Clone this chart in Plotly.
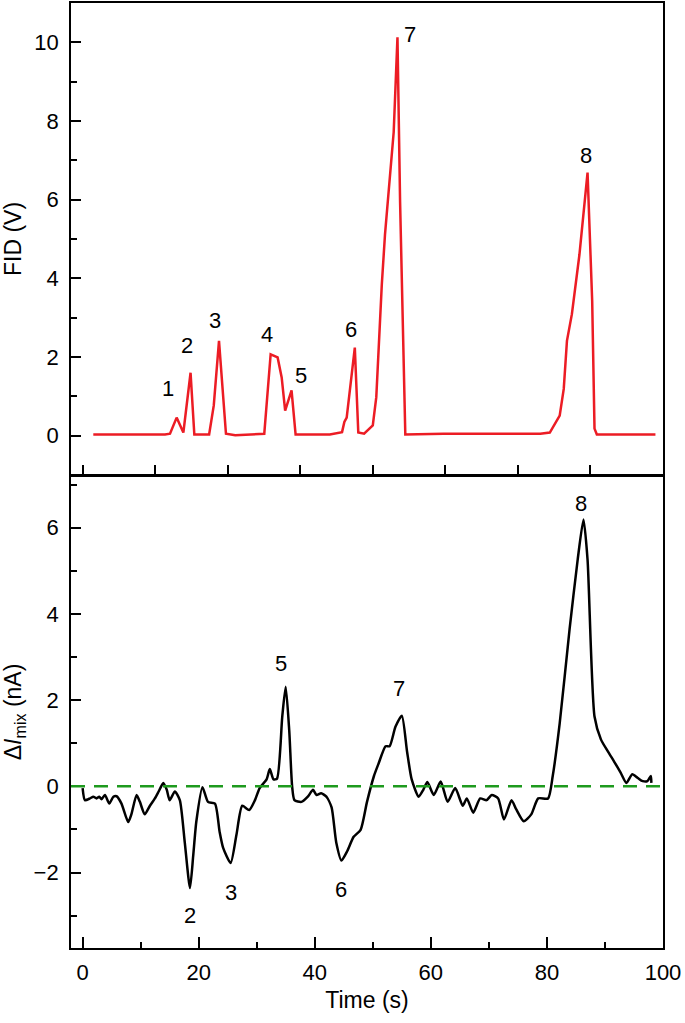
import plotly.graph_objects as go

# ---- Top panel: FID chromatogram ----
fid_time = [1.84, 14.2, 15.06, 16.2, 17.36, 18.6, 19.25, 21.8, 22.6, 23.5, 24.7, 26.3,
            31.3, 32.4, 33.6, 34.3, 34.9, 36.0, 36.7, 42.6, 44.7, 45.1, 45.5, 46.9,
            47.5, 48.5, 50.0, 50.6, 51.55, 52.1, 53.6, 54.25, 54.7, 55.6, 62.2, 78.85,
            80.5, 81.4, 82.2, 82.9, 83.45, 84.3, 85.6, 87.0, 87.8, 88.2, 88.6, 98.7]
fid_volt = [0.03, 0.03, 0.05, 0.46, 0.08, 1.6, 0.03, 0.03, 0.77, 2.41, 0.05, 0.01,
            0.05, 2.07, 1.99, 1.48, 0.64, 1.15, 0.03, 0.03, 0.09, 0.35, 0.46, 2.24,
            0.08, 0.05, 0.26, 0.98, 3.84, 5.11, 7.72, 10.13, 5.95, 0.03, 0.05, 0.05,
            0.08, 0.3, 0.51, 1.19, 2.41, 3.09, 4.6, 6.69, 3.42, 0.18, 0.03, 0.03]
fid_label_text = ["1", "2", "3", "4", "5", "6", "7", "8"]
fid_label_t = [14.65, 17.9, 22.8, 31.7, 37.6, 46.3, 56.4, 86.7]
fid_label_v = [1.19, 2.29, 2.92, 2.58, 1.54, 2.71, 10.21, 7.12]

# ---- Bottom panel: mixing current ----
mix_time = [0.0, 0.4, 1.26, 1.84, 2.4, 2.87, 3.27, 3.84, 4.6, 5.3, 5.85, 6.7, 7.86, 8.4,
            9.3, 9.87, 10.7, 11.6, 12.45, 13.1, 13.9, 14.5, 15.0, 15.9, 16.75, 17.6,
            18.5, 19.05, 19.6, 20.65, 21.6, 22.8, 23.6, 24.2, 25.5, 26.5, 27.5, 28.7,
            29.7, 30.5, 31.7, 32.25, 32.9, 33.5, 34.4, 34.99, 35.6, 36.1, 36.5, 37.7,
            38.8, 39.7, 40.3, 41.1, 42.0, 42.9, 43.7, 44.6, 45.6, 46.7, 47.9, 49.0,
            50.2, 51.0, 52.2, 52.9, 53.9, 55.0, 55.9, 56.7, 57.9, 58.7, 59.4, 60.5,
            61.7, 62.9, 64.2, 65.5, 66.2, 67.3, 68.5, 69.6, 70.5, 71.6, 72.6, 73.9,
            74.7, 76.0, 77.3, 78.5, 80.2, 81.0, 82.2, 83.9, 85.3, 86.3, 87.0, 88.2,
            89.3, 90.5, 91.6, 92.7, 93.7, 94.7, 95.6, 96.5, 97.3, 97.9, 98.0]
mix_current = [-0.04, -0.32, -0.28, -0.24, -0.28, -0.24, -0.30, -0.20, -0.40, -0.24,
               -0.23, -0.40, -0.83, -0.65, -0.20, -0.36, -0.65, -0.45, -0.28, -0.12,
               0.08, -0.08, -0.32, -0.12, -0.32, -1.30, -2.36, -1.62, -0.81, -0.02,
               -0.36, -0.40, -1.05, -1.42, -1.78, -1.13, -0.45, -0.55, -0.32, -0.04,
               0.16, 0.40, 0.16, 0.18, 1.62, 2.31, 1.30, 0.0, -0.32, -0.36, -0.24,
               -0.08, -0.20, -0.16, -0.24, -0.49, -1.30, -1.72, -1.50, -1.17, -1.01,
               -0.36, 0.24, 0.53, 0.93, 0.93, 1.38, 1.64, 0.81, 0.16, -0.24, -0.08,
               0.10, -0.20, 0.11, -0.36, -0.04, -0.45, -0.28, -0.61, -0.28, -0.32,
               -0.20, -0.28, -0.77, -0.32, -0.53, -0.81, -0.65, -0.28, -0.28, 0.24,
               1.46, 3.64, 5.26, 6.19, 5.26, 1.62, 1.09, 0.81, 0.57, 0.32, 0.08, 0.28,
               0.20, 0.12, 0.12, 0.24, 0.08]
mix_label_text = ["2", "3", "5", "6", "7", "8"]
mix_label_t = [18.5, 25.6, 34.25, 44.6, 54.5, 85.9]
mix_label_v = [-3.0, -2.47, 2.85, -2.39, 2.27, 6.57]

FONT = "Liberation Sans, Arial, Helvetica, sans-serif"

fig = go.Figure()
fig.add_trace(go.Scatter(x=fid_time, y=fid_volt, mode="lines",
                         line=dict(color="#ec1c24", width=2.5),
                         xaxis="x", yaxis="y", showlegend=False))
fig.add_trace(go.Scatter(x=mix_time, y=mix_current, mode="lines",
                         line=dict(color="black", width=2.5, shape="spline", smoothing=0.6),
                         xaxis="x2", yaxis="y2", showlegend=False))

annotations = []
for txt, t, v in zip(fid_label_text, fid_label_t, fid_label_v):
    annotations.append(dict(x=t, y=v, xref="x", yref="y", text=txt, showarrow=False,
                            font=dict(size=22, color="black", family=FONT)))
for txt, t, v in zip(mix_label_text, mix_label_t, mix_label_v):
    annotations.append(dict(x=t, y=v, xref="x2", yref="y2", text=txt, showarrow=False,
                            font=dict(size=22, color="black", family=FONT)))

fig.add_shape(type="line", xref="x2 domain", yref="y2", x0=0, x1=1, y0=0, y1=0,
              line=dict(color="#1e9a1e", width=2.5, dash="14px,9px"))

axis_common = dict(showline=True, linecolor="black", linewidth=1.8, mirror=True,
                   showgrid=False, zeroline=False, ticks="inside", tickcolor="black",
                   tickwidth=1.5, tickfont=dict(size=22, color="black", family=FONT))

fig.update_layout(
    width=685, height=1023,
    margin=dict(l=71, r=22, t=1, b=75),
    paper_bgcolor="white", plot_bgcolor="white",
    font=dict(family=FONT, color="black"),
    xaxis=dict(axis_common, domain=[0, 1], anchor="y", range=[-2, 100],
               tick0=0, dtick=12.5, ticklen=10, showticklabels=False),
    yaxis=dict(axis_common, domain=[0.5005, 1], anchor="x", range=[-1, 11],
               tick0=0, dtick=2, ticklen=10, ticklabelstandoff=6,
               minor=dict(ticks="inside", dtick=1, ticklen=6, tickcolor="black", tickwidth=1.5),
               title=dict(text="FID (V)", font=dict(size=23, family=FONT), standoff=14)),
    xaxis2=dict(axis_common, domain=[0, 1], anchor="y2", range=[-2, 100],
                tick0=0, dtick=20, ticklen=11, ticklabelstandoff=4,
                minor=dict(ticks="inside", dtick=10, ticklen=6, tickcolor="black", tickwidth=1.5),
                title=dict(text="Time (s)", font=dict(size=23, family=FONT), standoff=8)),
    yaxis2=dict(axis_common, domain=[0, 0.4995], anchor="x2", range=[-3.75, 7.2],
                tick0=0, dtick=2, ticklen=10, ticklabelstandoff=6,
                tickvals=[-2, 0, 2, 4, 6], ticktext=["\u22122", "0", "2", "4", "6"],
                minor=dict(ticks="inside", tick0=1, dtick=2, ticklen=6, tickcolor="black", tickwidth=1.5),
                title=dict(text="\u0394<i>I</i><sub>mix</sub> (nA)", font=dict(size=23, family=FONT), standoff=14)),
    annotations=annotations,
)

fig.write_html("out.html",
               config={"displayModeBar": False},
               post_script="document.body.style.margin='0px';document.body.style.overflow='hidden';")
